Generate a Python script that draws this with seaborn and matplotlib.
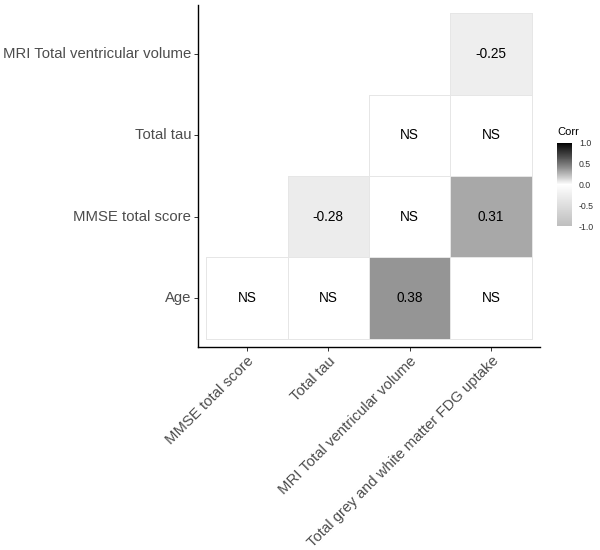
import matplotlib
matplotlib.use("Agg")
import matplotlib.pyplot as plt
import numpy as np
import seaborn as sns
from matplotlib.colors import ListedColormap, to_rgba

# rows listed top to bottom, columns left to right
rows = ["MRI Total ventricular volume", "Total tau", "MMSE total score", "Age"]
cols = ["MMSE total score", "Total tau", "MRI Total ventricular volume",
        "Total grey and white matter FDG uptake"]

# None = not shown (triangle), "NS" = not significant
corr_mri = [None, None, None, -0.25]
corr_tau = [None, None, "NS", "NS"]
corr_mmse = [None, -0.28, "NS", 0.31]
corr_age = ["NS", "NS", 0.38, "NS"]

cbar_ticks = [-1.0, -0.5, 0.0, 0.5, 1.0]

sns.set_theme(style="white")
plt.rcParams["font.family"] = ["Liberation Sans", "DejaVu Sans"]


def gray_from_lab(L):
    # L* (0-100) -> sRGB grey level
    y = ((L + 16) / 116) ** 3
    y = np.where(L <= 8, L / 903.3, y)
    c = np.where(y <= 0.0031308, 12.92 * y, 1.055 * y ** (1 / 2.4) - 0.055)
    return np.clip(c, 0, 1)


# grey -> white -> black diverging scale, interpolated in Lab
v = np.linspace(-1, 1, 257)
low_L = 77.0
L = np.where(v < 0, 100 + v * (100 - low_L), 100 * (1 - v))
g = gray_from_lab(L)
cmap = ListedColormap(np.column_stack([g, g, g]))

grid = [corr_mri, corr_tau, corr_mmse, corr_age]
fill = np.full((4, 4), np.nan)
labels = np.full((4, 4), "", dtype=object)
for i, row in enumerate(grid):
    for j, val in enumerate(row):
        if val is None:
            continue
        if val == "NS":
            fill[i, j] = 0.0
            labels[i, j] = "NS"
        else:
            fill[i, j] = val
            labels[i, j] = f"{val:.2f}"
mask = np.isnan(fill)

fig = plt.figure(figsize=(6, 5.5), dpi=100)
ax = fig.add_axes([198 / 600, 1 - 347 / 550, 342 / 600, 342 / 550])
cax = fig.add_axes([557 / 600, 1 - 226 / 550, 15 / 600, 83 / 550])

sns.heatmap(
    fill, mask=mask, cmap=cmap, vmin=-1, vmax=1,
    annot=labels, fmt="", annot_kws={"color": "black", "fontsize": 9.8},
    linewidths=0.6, linecolor="#e6e6e6",
    xticklabels=cols, yticklabels=rows,
    ax=ax, cbar_ax=cax, cbar_kws={"ticks": cbar_ticks},
)

# no outline on the hidden triangle
mesh = ax.collections[0]
edge = np.array([to_rgba("#e6e6e6")] * mask.size)
edge[mask.ravel()] = (1, 1, 1, 0)
mesh.set_edgecolors(edge)

ax.set_xlim(-0.1, 4.1)
ax.set_ylim(4.1, -0.1)
for side in ["left", "bottom"]:
    ax.spines[side].set_visible(True)
    ax.spines[side].set_color("black")
    ax.spines[side].set_linewidth(1.0)
for side in ["top", "right"]:
    ax.spines[side].set_visible(False)

ax.tick_params(axis="both", which="both", length=3, width=0.7, color="#333333",
               labelcolor="#4d4d4d", labelsize=10.7, pad=2,
               bottom=True, left=True)
ax.set_xticklabels(cols, rotation=45, ha="right", va="top", rotation_mode="anchor")
ax.set_yticklabels(rows, rotation=0)

cbar = mesh.colorbar
cbar.outline.set_visible(False)
cbar.set_ticks(cbar_ticks)
cbar.set_ticklabels([f"{t:.1f}" for t in cbar_ticks])
cax.tick_params(direction="in", color="white", length=3, width=0.6,
                labelsize=6.3, labelcolor="#333333", pad=5)
fig.text(557 / 600, 1 - 132 / 550, "Corr", fontsize=8, ha="left", va="center",
         color="black")

fig.savefig("out.png", dpi=100)
